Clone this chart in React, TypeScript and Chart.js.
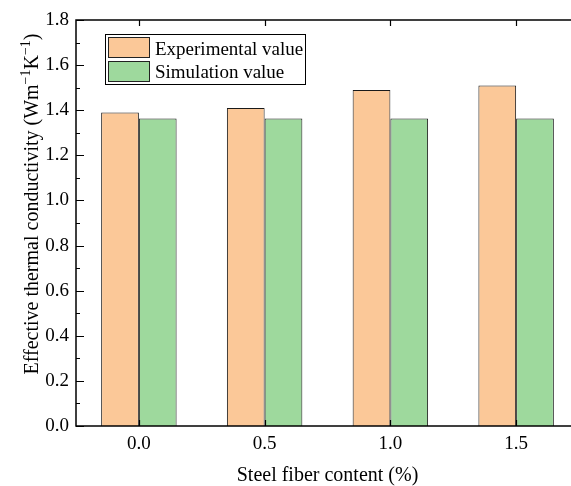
import React, { useEffect, useRef } from "react";
import { Chart, registerables } from "chart.js";

Chart.register(...registerables);

const categories = ["0.0", "0.5", "1.0", "1.5"];
const experimentalValues = [1.39, 1.41, 1.49, 1.51];
const simulationValues = [1.363, 1.363, 1.363, 1.363];
const seriesLabels = ["Experimental value", "Simulation value"];
const seriesColors = ["#FBC898", "#9ED99D"];
const yMin = 0;
const yMax = 1.8;
const yStep = 0.2;
const xTitle = "Steel fiber content (%)";
// y title pieces: [text, isSuperscript]
const yTitleParts: [string, boolean][] = [
  ["Effective thermal conductivity (Wm", false],
  ["\u22121", true],
  ["K", false],
  ["\u22121", true],
  [")", false],
];

const FONT = '"Liberation Serif", "Times New Roman", serif';

const decorPlugin = {
  id: "decor",
  afterDraw(chart: any) {
    const ctx = chart.ctx as CanvasRenderingContext2D;
    const { left, right, top, bottom } = chart.chartArea;
    const ys = chart.scales.y;
    const xs = chart.scales.x;
    ctx.save();
    ctx.strokeStyle = "#000";
    ctx.lineWidth = 1.5;
    ctx.strokeRect(left, top, right - left, bottom - top);

    // y ticks (major + minor), inward on both sides
    ctx.lineWidth = 1.2;
    const majors: number[] = ys.ticks.map((t: any) => t.value);
    const drawYTick = (v: number, len: number) => {
      const py = Math.round(ys.getPixelForValue(v)) + 0.5;
      ctx.beginPath();
      ctx.moveTo(left, py);
      ctx.lineTo(left + len, py);
      ctx.moveTo(right, py);
      ctx.lineTo(right - len, py);
      ctx.stroke();
    };
    majors.forEach((v, i) => {
      drawYTick(v, 8);
      if (i < majors.length - 1) drawYTick((v + majors[i + 1]) / 2, 4);
    });
    // x ticks at category centers, inward top and bottom
    categories.forEach((_, i) => {
      const px = Math.round(xs.getPixelForValue(i)) + 0.5;
      ctx.beginPath();
      ctx.moveTo(px, top);
      ctx.lineTo(px, top + 6);
      ctx.moveTo(px, bottom);
      ctx.lineTo(px, bottom - 6);
      ctx.stroke();
    });

    // legend
    const lx = 105.5, ly = 34.5, lw = 200, lh = 50;
    ctx.fillStyle = "#fff";
    ctx.fillRect(lx, ly, lw, lh);
    ctx.lineWidth = 1;
    ctx.strokeStyle = "#000";
    ctx.strokeRect(lx, ly, lw, lh);
    const swY = [37.5, 61.5];
    const txtY = [54.5, 77.5];
    ctx.font = `19px ${FONT}`;
    ctx.textBaseline = "alphabetic";
    ctx.textAlign = "left";
    seriesLabels.forEach((lab, i) => {
      ctx.fillStyle = seriesColors[i];
      ctx.fillRect(108.5, swY[i], 41, 20);
      ctx.strokeStyle = "#222";
      ctx.strokeRect(108.5, swY[i], 41, 20);
      ctx.fillStyle = "#000";
      ctx.fillText(lab, 155, txtY[i]);
    });

    // x title
    ctx.font = `20px ${FONT}`;
    ctx.textAlign = "center";
    ctx.fillStyle = "#000";
    ctx.fillText(xTitle, (left + right) / 2, 481);

    // y title with superscripts
    const mainFont = `20px ${FONT}`;
    const supFont = `14px ${FONT}`;
    let total = 0;
    const widths = yTitleParts.map(([t, sup]) => {
      ctx.font = sup ? supFont : mainFont;
      const w = ctx.measureText(t).width;
      total += w;
      return w;
    });
    ctx.translate(38, 204);
    ctx.rotate(-Math.PI / 2);
    ctx.textAlign = "left";
    let cx = -total / 2;
    yTitleParts.forEach(([t, sup], i) => {
      ctx.font = sup ? supFont : mainFont;
      ctx.fillText(t, cx, sup ? -8 : 0);
      cx += widths[i];
    });
    ctx.restore();
  },
};

export default function App() {
  const ref = useRef<HTMLCanvasElement | null>(null);
  useEffect(() => {
    if (!ref.current) return;
    const chart = new Chart(ref.current, {
      type: "bar",
      data: {
        labels: categories,
        datasets: [
          {
            label: seriesLabels[0],
            data: experimentalValues,
            backgroundColor: seriesColors[0],
            borderColor: "#1a1a1a",
            borderWidth: 1,
            categoryPercentage: 0.6,
            barPercentage: 1,
          },
          {
            label: seriesLabels[1],
            data: simulationValues,
            backgroundColor: seriesColors[1],
            borderColor: "#1a1a1a",
            borderWidth: 1,
            categoryPercentage: 0.6,
            barPercentage: 1,
          },
        ],
      },
      options: {
        responsive: false,
        devicePixelRatio: 1,
        animation: false,
        layout: { padding: { left: 0, top: 20, right: 21, bottom: 0 } },
        plugins: { legend: { display: false }, tooltip: { enabled: false } },
        scales: {
          x: {
            grid: { display: false, drawTicks: false },
            border: { display: false },
            ticks: { color: "#000", font: { family: FONT, size: 19 }, padding: 7 },
            afterFit: (s: any) => {
              s.height = 60;
            },
          },
          y: {
            min: yMin,
            max: yMax,
            grid: { display: false, drawTicks: false },
            border: { display: false },
            ticks: {
              stepSize: yStep,
              color: "#000",
              font: { family: FONT, size: 19 },
              padding: 7,
              callback: (v: any) => Number(v).toFixed(1),
            },
            afterFit: (s: any) => {
              s.width = 76;
            },
          },
        },
      },
      plugins: [decorPlugin],
    });
    return () => chart.destroy();
  }, []);
  return (
    <div
      style={{
        position: "fixed",
        left: 0,
        top: 0,
        width: 571,
        height: 486,
        overflow: "hidden",
        background: "#fff",
      }}
    >
      <canvas ref={ref} width={600} height={486} style={{ display: "block" }} />
    </div>
  );
}
